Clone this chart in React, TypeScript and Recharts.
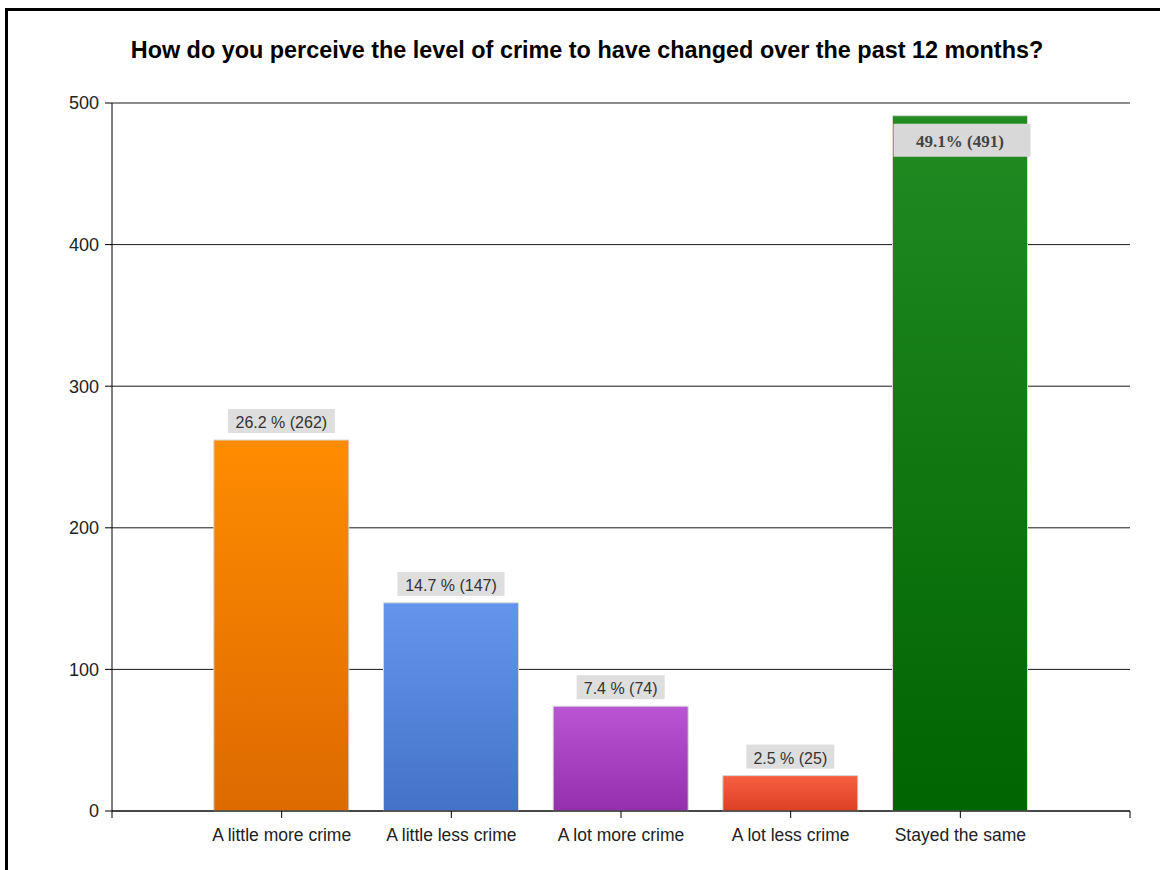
import React from 'react';
import { BarChart, Bar, XAxis, YAxis, CartesianGrid, Cell, LabelList } from 'recharts';

const TITLE = 'How do you perceive the level of crime to have changed over the past 12 months?';

const categories = ['A little more crime', 'A little less crime', 'A lot more crime', 'A lot less crime', 'Stayed the same'];
const counts = [262, 147, 74, 25, 491];
const labels = ['26.2 % (262)', '14.7 % (147)', '7.4 % (74)', '2.5 % (25)', '49.1% (491)'];
const yTicks = [0, 100, 200, 300, 400, 500];
const xTicks = [0, 1, 2, 3, 4, 5, 6];

// top / bottom colours of each bar's gradient
const GRADIENTS = [
  ['#FF8C00', '#DC6A00'],
  ['#6495ED', '#4472C8'],
  ['#BA55D3', '#9430AC'],
  ['#F5603F', '#DC4022'],
  ['#228B22', '#006400'],
];

const FONT = '"Liberation Sans", Arial, sans-serif';

const data = categories.map((name, i) => ({ pos: i + 1, name, value: counts[i], label: labels[i] }));

const BarLabel = (props: any) => {
  const { x, y, width, index } = props;
  const text = labels[index];
  const cx = x + width / 2;
  if (index === categories.length - 1) {
    // last label sits inside the bar, in a serif face
    return (
      <g>
        <rect x={x + 1} y={y + 8} width={width + 2} height={33} fill="#D8D8D8" />
        <text x={cx} y={y + 31} textAnchor="middle" fontFamily='"Liberation Serif", "Times New Roman", serif'
          fontWeight="bold" fontSize={17} fill="#444">{text}</text>
      </g>
    );
  }
  const w = text.length * 9.5 - 7;
  return (
    <g>
      <rect x={cx - w / 2} y={y - 31} width={w} height={24} fill="#DEDEDE" />
      <text x={cx} y={y - 12} textAnchor="middle" fontFamily={FONT} fontSize={16} fill="#333">{text}</text>
    </g>
  );
};

const CategoryTick = (props: any) => {
  const { x, y, payload } = props;
  const name = categories[payload.value - 1] ?? '';
  return (
    <text x={x} y={y + 21} textAnchor="middle" fontFamily={FONT} fontSize={17.5} fill="#222">{name}</text>
  );
};

export default function App() {
  return (
    <div style={{ position: 'absolute', left: 0, top: 0, width: 1160, height: 870, overflow: 'hidden', background: '#fff' }}>
      <div style={{ position: 'absolute', left: 5, top: 8, width: 1200, height: 900, border: '3px solid #000' }} />
      <div style={{
        position: 'absolute', left: 0, top: 37, width: 1174, textAlign: 'center',
        fontFamily: FONT, fontWeight: 'bold', fontSize: 23.4, color: '#000', whiteSpace: 'nowrap',
      }}>{TITLE}</div>
      <div style={{ position: 'absolute', left: 0, top: 0 }}>
        <BarChart width={1160} height={870} data={data} margin={{ top: 103, right: 30, bottom: 29, left: 52 }}>
          <defs>
            {GRADIENTS.map(([top, bottom], i) => (
              <linearGradient key={i} id={`grad${i}`} x1="0" y1="0" x2="0" y2="1">
                <stop offset="0%" stopColor={top} />
                <stop offset="100%" stopColor={bottom} />
              </linearGradient>
            ))}
          </defs>
          <CartesianGrid vertical={false} stroke="#000" strokeOpacity={0.9} />
          <XAxis
            type="number"
            dataKey="pos"
            domain={[0, 6]}
            ticks={xTicks}
            interval={0}
            stroke="#000"
            tickSize={7}
            height={30}
            tick={<CategoryTick />}
          />
          <YAxis
            type="number"
            domain={[0, 500]}
            ticks={yTicks}
            interval={0}
            stroke="#000"
            tickSize={7}
            tickMargin={6}
            width={60}
            tick={{ fill: '#222', fontSize: 18, fontFamily: FONT }}
          />
          <Bar dataKey="value" barSize={135} stroke="#D6D6D6" strokeWidth={1} isAnimationActive={false}>
            {data.map((d, i) => (
              <Cell key={d.name} fill={`url(#grad${i})`} />
            ))}
            <LabelList dataKey="label" content={BarLabel} />
          </Bar>
        </BarChart>
      </div>
    </div>
  );
}
